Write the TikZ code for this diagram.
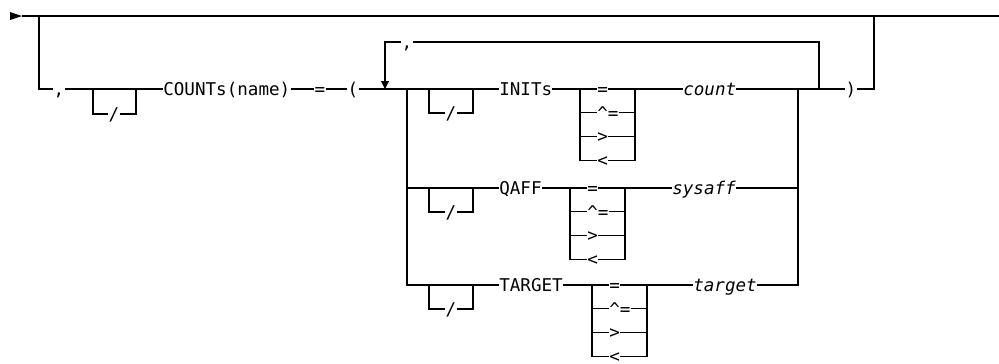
\documentclass[tikz,border=0pt]{standalone}
\usepackage{fontspec}
\setmainfont{DejaVu Sans Mono}
\usetikzlibrary{arrows.meta}
\tikzset{
  rr/.style={line width=0.8pt},
  tok/.style={inner sep=0pt, text height=9.1pt, text depth=0pt},
  kw/.style={tok, anchor=west},
  var/.style={kw, font=\fontsize{12.5}{15}\selectfont\itshape},
}
\begin{document}
\begin{tikzpicture}[x=0.025cm, y=-0.025cm, font=\fontsize{12.5}{15}\selectfont]
\useasboundingbox (0,0) rectangle (999,363);
\coordinate (in) at (22,16);
\coordinate (out) at (999,16);
\coordinate (bl) at (39,16);
\coordinate (br) at (874,16);
\fill (10,12) -- (in) -- (10,20) -- cycle;
\draw[rr] (in) -- (out);

\node[tok] (c1) at (59,89) {,};
\coordinate (s1) at (93,89);
\coordinate (s2) at (136,89);
\node[tok] (sl0) at (114,114) {/};
\node[kw] (counts) at (163,89) {COUNTs(name)};
\node[tok] (eq) at (320,89) {=};
\node[tok] (lp) at (353,89) {(};
\coordinate (ar) at (385,89);
\coordinate (gl) at (407,89);
\coordinate (gr) at (798,89);
\coordinate (lr) at (819,89);
\node[tok] (rp) at (851,89) {)};
\draw[rr] (bl) |- (c1) -- (s1) -- (s2) -- (counts) -- (eq) -- (lp) -- (gl);
\draw[rr] (s1) |- (sl0) -| (s2);
\draw[rr] (gr) -- (lr) -- (rp) -| (br);

\node[tok] (c2) at (407,42) {,};
\draw[rr] (lr) |- (c2);
\draw[rr, -{Triangle[length=0.2cm, width=0.2cm]}] (c2) -| (ar);

\foreach \i/\y/\k/\cx/\v/\vx in {1/89/INITs/580/count/683, 2/188/QAFF/570/sysaff/672, 3/285/TARGET/592/target/693} {
  \coordinate (sa\i) at (429,\y);
  \coordinate (sb\i) at (473,\y);
  \node[tok] (sl\i) at (451,\y+24) {/};
  \node[kw] (kw\i) at (499,\y) {\k};
  \coordinate (ca\i) at (\cx,\y);
  \coordinate (cb\i) at (\cx+55,\y);
  \node[var] (var\i) at (\vx,\y) {\v};
  \draw[rr] (gl) |- (sa\i) -- (sb\i) -- (kw\i) -- (ca\i);
  \draw[rr] (cb\i) -- (var\i) -| (gr);
  \draw[rr] (sa\i) |- (sl\i) -| (sb\i);
  \foreach \o [count=\j from 0] in {=, \symbol{94}=, >, <} {
    \node[kw] (op\i\j) at (\cx+17,\y+23.7*\j) {\o};
    \draw[rr] (ca\i) |- (op\i\j) -| (cb\i);
  }
}
\end{tikzpicture}
\end{document}
